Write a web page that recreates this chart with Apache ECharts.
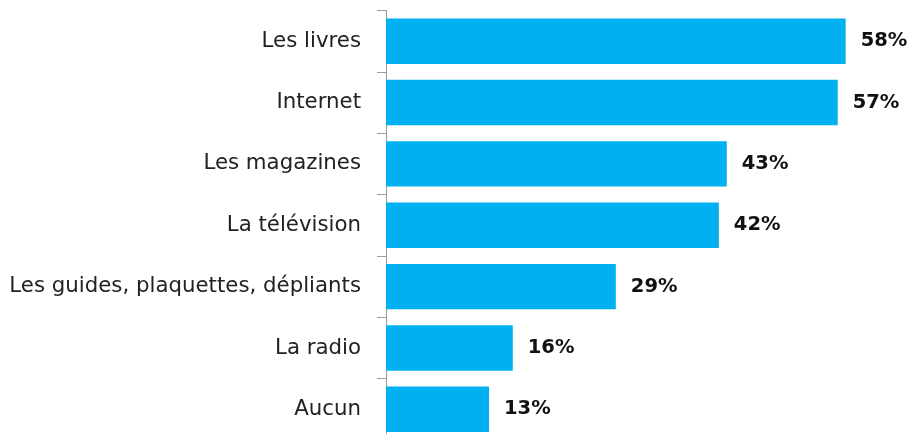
<!DOCTYPE html>
<html>
<head>
<meta charset="utf-8">
<script src="https://cdn.jsdelivr.net/npm/echarts@6/dist/echarts.min.js"></script>
<style>
    html, body { margin: 0; padding: 0; background: #fff; overflow: hidden; }
    /* le graphique original est coupé en bas, d'où la hauteur > 434 */
    #chart { width: 910px; height: 441px; }
</style>
</head>
<body>
<div id="chart"></div>
<script>
    // catégories, du haut vers le bas
    var categories = ['Les livres', 'Internet', 'Les magazines', 'La télévision',
        'Les guides, plaquettes, dépliants', 'La radio', 'Aucun'];
    var values = [58, 57, 43, 42, 29, 16, 13];

    var myChart = echarts.init(document.getElementById('chart'));

    var option = {
        animation: false,
        grid: {
            left: 386,
            top: 10.5,
            width: 475.5,
            height: 429.5
        },
        xAxis: {
            type: 'value',
            min: 0,
            max: 60,
            show: false
        },
        yAxis: {
            type: 'category',
            inverse: true,
            data: categories,
            axisLine: {
                show: true,
                lineStyle: { color: '#9a9a9a', width: 1 }
            },
            axisTick: {
                show: true,
                length: 9,
                lineStyle: { color: '#9a9a9a' }
            },
            axisLabel: {
                margin: 25,
                fontFamily: 'DejaVu Sans',
                fontSize: 21.3,
                color: '#222'
            }
        },
        series: [{
            type: 'bar',
            data: values,
            barCategoryGap: '26%',
            itemStyle: { color: '#00b0f0' },
            label: {
                show: true,
                position: 'right',
                distance: 15,
                formatter: '{c}%',
                fontFamily: 'DejaVu Sans',
                fontWeight: 'bold',
                fontSize: 19.5,
                color: '#111'
            }
        }]
    };

    myChart.setOption(option);
</script>
</body>
</html>
